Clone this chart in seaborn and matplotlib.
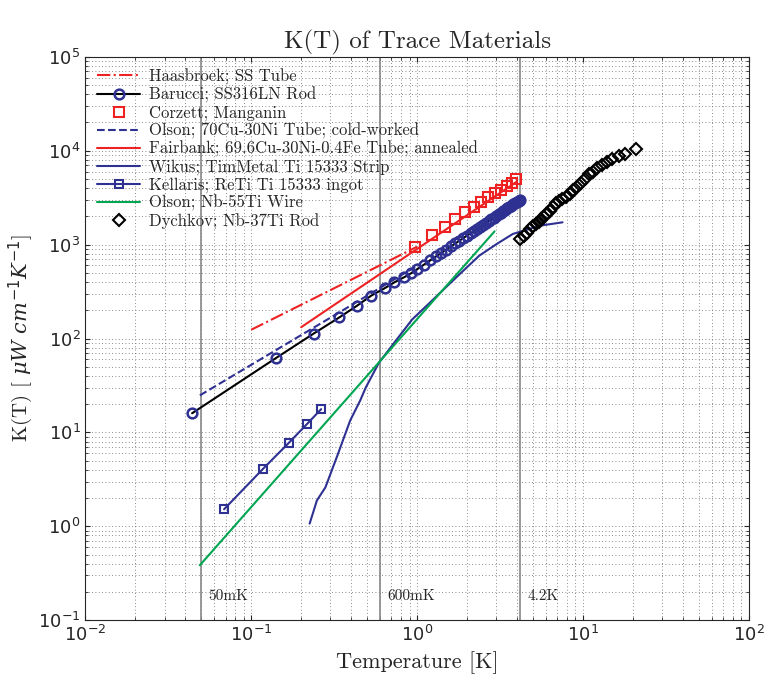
import numpy as np
import matplotlib
matplotlib.use('Agg')
import matplotlib.pyplot as plt
import seaborn as sns

# Haasbroek; SS Tube
haas_T = [0.1, 1.0]
haas_K = [124, 950]
# Barucci; SS316LN Rod
bar_T = [0.044, 0.141, 0.238, 0.34, 0.435, 0.53, 0.637, 0.73, 0.834, 0.92,
         1.0, 1.1, 1.2, 1.3, 1.4, 1.5, 1.6, 1.7, 1.8, 1.9, 2.0, 2.1, 2.2, 2.3,
         2.4, 2.5, 2.6, 2.7, 2.8, 2.9, 3.0, 3.1, 3.2, 3.3, 3.4, 3.5, 3.6, 3.7,
         3.8, 3.9, 4.0, 4.1, 4.2]
bar_K = [16, 62, 113, 168, 224, 287, 343, 397, 449, 495,
         547, 612, 680, 748, 817, 887, 957, 1029, 1101, 1174, 1248, 1323, 1399, 1475,
         1552, 1629, 1706, 1784, 1863, 1942, 2022, 2102, 2183, 2265, 2348, 2430, 2512, 2596,
         2680, 2765, 2850, 2935, 3020]
# Corzett; Manganin
corz_T = [0.97, 1.23, 1.47, 1.70, 1.95, 2.19, 2.43, 2.66, 2.93, 3.21, 3.49, 3.75, 3.97]
corz_K = [952, 1276, 1552, 1874, 2207, 2536, 2866, 3184, 3513, 3846, 4207, 4565, 5000]
# Olson; 70Cu-30Ni Tube
olcu_T = [0.049, 0.34, 1.0]
olcu_K = [24.8, 190, 597]
# Fairbank; 69.6Cu-30Ni-0.4Fe Tube
fair_T = [0.2, 4.0]
fair_K = [132, 4700]
# Wikus; TimMetal Ti 15333 Strip
wik_T = [0.225, 0.249, 0.28, 0.328, 0.395, 0.454, 0.49, 0.588, 0.72, 0.935,
         1.2, 1.49, 1.9, 2.37, 3.02, 3.78, 5.5, 7.53]
wik_K = [1.07, 1.89, 2.6, 5.46, 13.4, 21.9, 30, 55, 88, 160,
         243, 351, 528, 763, 1016, 1300, 1591, 1728]
# Kellaris; ReTi Ti 15333 ingot
kel_T = [0.0686, 0.118, 0.168, 0.216, 0.264]
kel_K = [1.52, 4.11, 7.7, 12.2, 17.7]
# Olson; Nb-55Ti Wire
olnb_T = [0.049, 2.93]
olnb_K = [0.385, 1384]
# Dychkov; Nb-37Ti Rod
dy_T = [4.2, 4.4, 4.6, 4.8, 5.0, 5.2, 5.4, 5.6, 5.8, 6.0, 6.3, 6.6, 6.9, 7.2, 7.5,
        7.9, 8.3, 8.7, 9.2, 9.7, 10.3, 10.9, 11.5, 12.2, 13, 14, 15, 16.5, 18, 21]
dy_K = [1150, 1230, 1330, 1470, 1560, 1650, 1760, 1870, 1960, 2100, 2300, 2520, 2750, 2900, 3050,
        3200, 3500, 3800, 4150, 4500, 5000, 5600, 6000, 6500, 7000, 7600, 8100, 8850, 9300, 10500]

ref_T = [0.05, 0.6, 4.2]
ref_lbl = ['50mK', '600mK', '4.2K']

sns.set_style('ticks')
plt.rcParams['font.family'] = ['cmr10', 'DejaVu Serif']
plt.rcParams['axes.formatter.use_mathtext'] = True
plt.rcParams['mathtext.fontset'] = 'custom'
plt.rcParams['mathtext.rm'] = 'DejaVu Sans'
plt.rcParams['mathtext.it'] = 'DejaVu Serif:italic'

fig = plt.figure(figsize=(7.76, 6.93), dpi=100)
ax = fig.add_axes([0.110, 0.105, 0.855, 0.813])

red = '#ee2222'
blue = '#2e3192'
green = '#00a651'

for t in ref_T:
    ax.axvline(t, color='#888888', lw=1.2, zorder=1)

sns.lineplot(x=haas_T, y=haas_K, ax=ax, color=red, ls='-.', lw=1.5, label='Haasbroek; SS Tube')
sns.lineplot(x=bar_T, y=bar_K, ax=ax, color='black', lw=1.5, marker='o', ms=7,
             mfc='none', mec=blue, mew=1.8, label='Barucci; SS316LN Rod')
sns.lineplot(x=corz_T, y=corz_K, ax=ax, color=red, lw=0, marker='s', ms=7,
             mfc='none', mec=red, mew=1.5, label='Corzett; Manganin')
sns.lineplot(x=olcu_T, y=olcu_K, ax=ax, color=blue, ls='--', lw=1.5, dashes=(5, 4),
             label='Olson; 70Cu-30Ni Tube; cold-worked')
sns.lineplot(x=fair_T, y=fair_K, ax=ax, color=red, lw=1.5, label='Fairbank; 69.6Cu-30Ni-0.4Fe Tube; annealed')
sns.lineplot(x=wik_T, y=wik_K, ax=ax, color=blue, lw=1.5, label='Wikus; TimMetal Ti 15333 Strip')
sns.lineplot(x=kel_T, y=kel_K, ax=ax, color=blue, lw=1.5, marker='s', ms=6,
             mfc='none', mec=blue, mew=1.5, label='Kellaris; ReTi Ti 15333 ingot')
sns.lineplot(x=olnb_T, y=olnb_K, ax=ax, color=green, lw=1.5, label='Olson; Nb-55Ti Wire')
sns.lineplot(x=dy_T, y=dy_K, ax=ax, color='black', lw=0, marker='D', ms=6,
             mfc='none', mec='black', mew=1.5, label='Dychkov; Nb-37Ti Rod')

ax.set_xscale('log')
ax.set_yscale('log')
ax.set_xlim(1e-2, 1e2)
ax.set_ylim(1e-1, 1e5)

for t, l in zip(ref_T, ref_lbl):
    ax.text(t * 1.1, 0.18, l, fontsize=11, va='center', ha='left')

ax.grid(True, which='both', ls=(0, (1, 3)), color='#666666', lw=0.6)
ax.tick_params(which='both', direction='in', top=True, right=True, labelsize=13)
for lbl in ax.get_xticklabels() + ax.get_yticklabels():
    lbl.set_family('DejaVu Sans')

ax.set_xlabel('Temperature [K]', fontsize=16)
ax.set_ylabel(r'K(T) [ $\mu W\ cm^{-1} K^{-1}$]', fontsize=15, labelpad=2)
ax.set_title('K(T) of Trace Materials', fontsize=18)

ax.legend(loc='upper left', fontsize=12, frameon=False, handlelength=2.6,
          borderaxespad=0.3, labelspacing=0.12, handletextpad=0.5)

fig.savefig('out.png', dpi=100)
